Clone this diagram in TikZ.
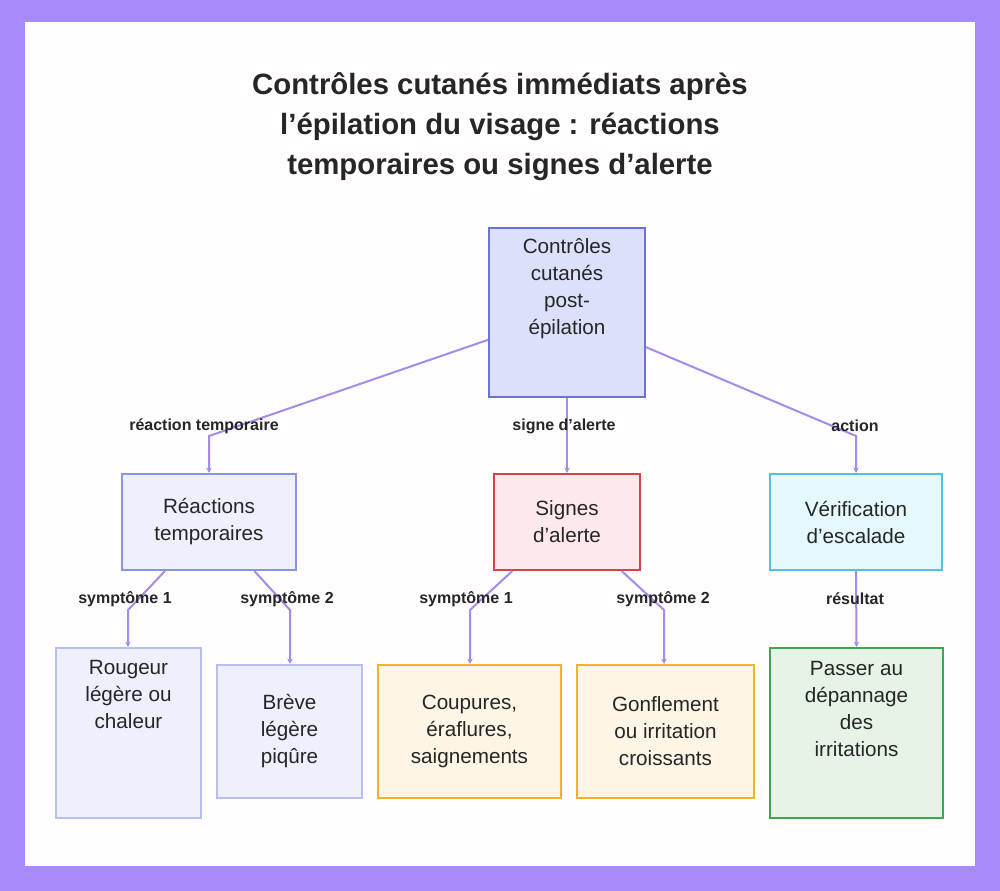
\documentclass[tikz,border=0pt]{standalone}
\usepackage{fontspec}
\setmainfont{Liberation Sans}
\usetikzlibrary{arrows.meta}
\definecolor{frame}{RGB}{167,139,250}
\definecolor{edgec}{RGB}{167,139,232}
\tikzset{every picture/.style={line width=0.75pt}}
\tikzset{
  box/.style={draw, line width=1.5pt, align=center, inner sep=0pt, font=\fontsize{15.5}{20.25}\selectfont, text=black!85},
  edge/.style={draw=edgec, line width=1.5pt, -{Stealth[length=4pt,width=4pt]}},
  lbl/.style={font=\bfseries\fontsize{12}{14}\selectfont, text=black!85, inner sep=0.75pt}
}
\begin{document}
\begin{tikzpicture}[x=0.75pt,y=0.75pt,yscale=-1,xscale=1]
\useasboundingbox (0,0) rectangle (1000,891);
% frame
\fill [frame] (0,0) rectangle (1000,891);
\fill [white!97!pink] (25,22) rectangle (975,866);
% title
\node [font=\bfseries\fontsize{22}{30}\selectfont, align=center, text=black!85] (title) at (500,127) {Contrôles cutanés immédiats après\\l'épilation du visage : réactions\\temporaires ou signes d'alerte};

% boxes
\node [box, fill={rgb,255:red,221;green,224;blue,251}, draw={rgb,255:red,107;green,116;blue,214}, minimum width=117pt, minimum height=127pt] (root) at (567,312.5) {};
\node [box, draw=none, anchor=north] at ([yshift=8pt]root.north) {Contrôles\\cutanés\\post-\\épilation};
\node [box, fill={rgb,255:red,238;green,240;blue,253}, draw={rgb,255:red,138;green,149;blue,224}, minimum width=130.5pt, minimum height=72pt] (rt) at (209,522) {Réactions\\temporaires};
\node [box, fill={rgb,255:red,253;green,232;blue,236}, draw={rgb,255:red,208;green,69;blue,76}, minimum width=109.5pt, minimum height=72pt] (sa) at (567,522) {Signes\\d'alerte};
\node [box, fill={rgb,255:red,229;green,248;blue,252}, draw={rgb,255:red,79;green,195;blue,224}, minimum width=129pt, minimum height=72pt] (ve) at (856,522) {Vérification\\d'escalade};
\node [box, fill={rgb,255:red,238;green,240;blue,253}, draw={rgb,255:red,184;green,192;blue,240}, minimum width=108.75pt, minimum height=127.5pt, anchor=north] (rg) at (128.5,647) {};
\node [box, draw=none, anchor=north] at ([yshift=9pt]rg.north) {Rougeur\\légère ou\\chaleur};
\node [box, fill={rgb,255:red,238;green,240;blue,253}, draw={rgb,255:red,184;green,192;blue,240}, minimum width=108.75pt, minimum height=99.75pt] (bp) at (289.5,731.5) {Brève\\légère\\piqûre};
\node [box, fill={rgb,255:red,253;green,246;blue,230}, draw={rgb,255:red,240;green,180;blue,41}, minimum width=137pt, minimum height=99.75pt] (cs) at (469.5,731.5) {Coupures,\\éraflures,\\saignements};
\node [box, fill={rgb,255:red,253;green,246;blue,230}, draw={rgb,255:red,240;green,180;blue,41}, minimum width=132.75pt, minimum height=99.75pt] (gi) at (665.5,731.5) {Gonflement\\ou irritation\\croissants};
\node [box, fill={rgb,255:red,230;green,244;blue,232}, draw={rgb,255:red,58;green,168;blue,81}, minimum width=129.75pt, minimum height=127.5pt, anchor=north] (pd) at (856.5,647) {};
\node [box, draw=none, anchor=north] at ([yshift=10pt]pd.north) {Passer au\\dépannage\\des\\irritations};

% bends
\coordinate (b1) at (209,436);
\coordinate (b2) at (856,436);
\coordinate (b3) at (128,610);
\coordinate (b4) at (290,610);
\coordinate (b5) at (470,610);
\coordinate (b6) at (664,610);

% connectors
\draw [edge] ([yshift=20.5pt]root.west) -- (b1) -- (rt.north -| b1);
\draw [edge] (root.south) -- (sa.north);
\draw [edge] ([yshift=26pt]root.east) -- (b2) -- (ve.north);
\draw [edge] ([xshift=-33pt]rt.south) -- (b3) -- (rg.north -| b3);
\draw [edge] ([xshift=34pt]rt.south) -- (b4) -- (bp.north -| b4);
\draw [edge] ([xshift=-41pt]sa.south) -- (b5) -- (cs.north -| b5);
\draw [edge] ([xshift=41pt]sa.south) -- (b6) -- (gi.north -| b6);
\draw [edge] (ve.south) -- (pd.north);

% labels
\node [lbl] (l1) at (204,426) {réaction temporaire};
\node [lbl] (l2) at (564,426) {signe d'alerte};
\node [lbl] (l3) at (855,426) {action};
\node [lbl] (l4) at (125,599) {symptôme 1};
\node [lbl] (l5) at (287,599) {symptôme 2};
\node [lbl] (l6) at (466,599) {symptôme 1};
\node [lbl] (l7) at (663,599) {symptôme 2};
\node [lbl] (l8) at (855,599) {résultat};
\end{tikzpicture}
\end{document}
